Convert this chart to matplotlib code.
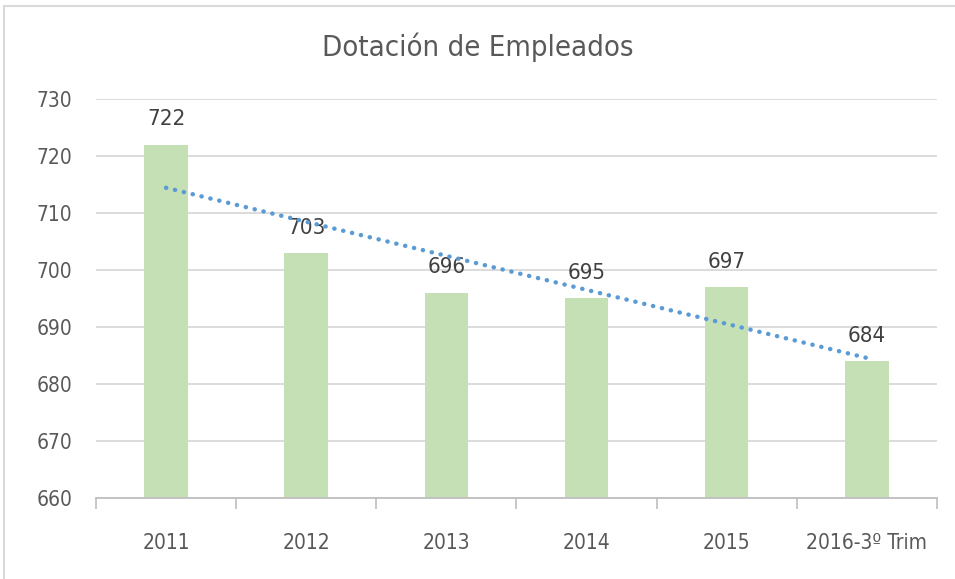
import numpy as np
import matplotlib.pyplot as plt
from matplotlib.patches import Rectangle

plt.rcParams['font.family'] = ['DejaVu Sans']
plt.rcParams['font.stretch'] = 'condensed'
plt.rcParams['font.weight'] = 'light'

categories = ['2011', '2012', '2013', '2014', '2015', '2016-3º Trim']
empleados = [722, 703, 696, 695, 697, 684]
yticks = [660, 670, 680, 690, 700, 710, 720, 730]

txt = '#595959'
fig = plt.figure(figsize=(9.55, 5.79), dpi=100)
ax = fig.add_axes([0.1005, 0.140, 0.8805, 0.689])

x = np.arange(len(categories))
ax.bar(x, empleados, width=0.31, color='#C5E0B4', zorder=2, bottom=0)
for xi, v in zip(x, empleados):
    ax.annotate(str(v), (xi, v), xytext=(0, 11), textcoords='offset points',
                ha='center', va='bottom', fontsize=16, color='#404040')

# linear trendline
m, b = np.polyfit(x, empleados, 1)
ax.plot(x, m * x + b, color='#5B9BD5', linestyle=(0, (0.05, 2.0)), lw=3.2,
        dash_capstyle='round', solid_capstyle='round', zorder=3)

ax.set_xlim(-0.5, len(categories) - 0.5)
ax.set_ylim(660, 730)
ax.set_yticks(yticks)
ax.yaxis.grid(True, color='#D9D9D9', lw=1.3, zorder=0)
ax.tick_params(axis='y', length=0, labelsize=15, labelcolor=txt, pad=17)
ax.set_xticks(x)
ax.set_xticklabels(categories)
ax.set_xticks(np.arange(-0.5, len(categories)), minor=True)
ax.tick_params(axis='x', which='major', length=0, labelsize=15, labelcolor=txt, pad=25)
ax.tick_params(axis='x', which='minor', length=8, color='#BFBFBF', width=1.2)
for s in ['top', 'right', 'left']:
    ax.spines[s].set_visible(False)
ax.spines['bottom'].set_color('#BFBFBF')
ax.spines['bottom'].set_linewidth(1.3)

fig.text(0.5, 0.918, 'Dotación de Empleados', ha='center', va='center',
         fontsize=21, color=txt)
fig.patches.append(Rectangle((0.004, -0.05), 1.1, 1.04, transform=fig.transFigure,
                             fill=False, edgecolor='#D9D9D9', lw=1.5))

fig.savefig('out.png', dpi=100)
